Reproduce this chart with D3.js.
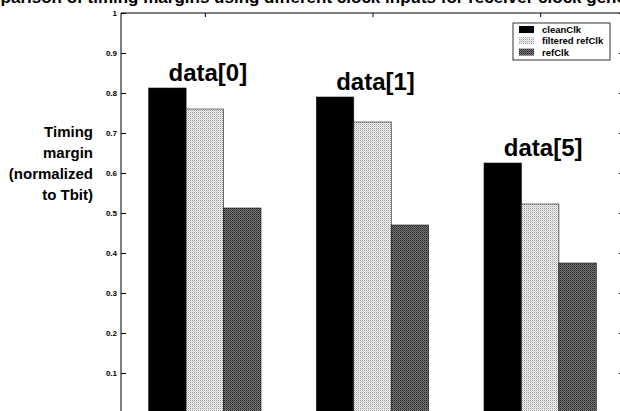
<!DOCTYPE html>
<html lang="en">
<head>
    <meta charset="UTF-8">
    <title>Timing margin bar chart</title>
    <script src="https://d3js.org/d3.v7.min.js"></script>
    <style>
        body { margin: 0; background: #fff; }
        text { font-family: "Liberation Sans", Arial, sans-serif; font-weight: bold; fill: #000; }
        .tick text { font-size: 8px; }
        .tick line, .domain { stroke: #000; }
    </style>
</head>
<body>
    <script>
        // data
        const groups = ["data[0]", "data[1]", "data[5]"];
        const series = ["cleanClk", "filtered refClk", "refClk"];
        const cleanClk = [0.8125, 0.79, 0.625];
        const filteredRefClk = [0.76, 0.7275, 0.5225];
        const refClk = [0.5125, 0.47, 0.375];
        const yTicks = [0, 0.1, 0.2, 0.3, 0.4, 0.5, 0.6, 0.7, 0.8, 0.9, 1];

        const width = 620, height = 411;
        const plotL = 121, plotR = 624, plotT = 13, plotB = 413;

        const svg = d3.select("body").append("svg")
            .attr("width", width)
            .attr("height", height);

        const defs = svg.append("defs");
        // light stipple
        const pLight = defs.append("pattern").attr("id", "light")
            .attr("width", 2).attr("height", 2).attr("patternUnits", "userSpaceOnUse");
        pLight.append("rect").attr("width", 2).attr("height", 2).attr("fill", "#f4f4f4");
        pLight.append("rect").attr("width", 1).attr("height", 1).attr("fill", "#9a9a9a");
        pLight.append("rect").attr("x", 1).attr("y", 1).attr("width", 1).attr("height", 1).attr("fill", "#d0d0d0");
        // dark stipple
        const pDark = defs.append("pattern").attr("id", "dark")
            .attr("width", 2).attr("height", 2).attr("patternUnits", "userSpaceOnUse");
        pDark.append("rect").attr("width", 2).attr("height", 2).attr("fill", "#7a7a7a");
        pDark.append("rect").attr("width", 1).attr("height", 1).attr("fill", "#222");
        pDark.append("rect").attr("x", 1).attr("y", 1).attr("width", 1).attr("height", 1).attr("fill", "#444");

        const fills = ["#000", "url(#light)", "url(#dark)"];
        const values = [cleanClk, filteredRefClk, refClk];

        const x = d3.scaleLinear().domain([0.5, groups.length + 0.5]).range([plotL, plotR]);
        const y = d3.scaleLinear().domain([0, 1]).range([plotB, plotT]);
        const groupW = 0.67;
        const xs = d3.scaleBand().domain(series).range([0, x(1 + groupW) - x(1)]);

        // title (cut off at the top edge, as in the source)
        svg.append("text")
            .attr("x", 318).attr("y", 3)
            .attr("text-anchor", "middle")
            .style("font-size", "17px")
            .text("Comparison of timing margins using different clock inputs for receiver clock generation");

        // bars
        groups.forEach((g, i) => {
            const x0 = x(i + 1) - (x(1 + groupW) - x(1)) / 2;
            series.forEach((s, j) => {
                svg.append("rect")
                    .attr("x", x0 + xs(s))
                    .attr("y", y(values[j][i]))
                    .attr("width", xs.bandwidth())
                    .attr("height", y(0) - y(values[j][i]))
                    .attr("fill", fills[j])
                    .attr("stroke", "#111")
                    .attr("stroke-width", 0.6);
            });
            svg.append("text")
                .attr("x", x(i + 1) + 3)
                .attr("y", y(cleanClk[i]) - 7)
                .attr("text-anchor", "middle")
                .style("font-size", "24px")
                .text(g);
        });

        // axes
        svg.append("g")
            .attr("transform", `translate(${plotL},0)`)
            .call(d3.axisRight(y).tickValues(yTicks).tickSize(5).tickFormat(d3.format("")))
            .call(g => g.selectAll(".tick text").attr("x", -4).attr("text-anchor", "end"))
            .call(g => g.select(".domain").attr("d", `M0,${plotB}V${plotT}`));
        svg.append("g")
            .attr("transform", `translate(${plotR},0)`)
            .call(d3.axisLeft(y).tickValues(yTicks).tickSize(5).tickFormat(""))
            .call(g => g.select(".domain").attr("d", `M0,${plotB}V${plotT}`));
        svg.append("g")
            .attr("transform", `translate(0,${plotT})`)
            .call(d3.axisBottom(x).tickValues(d3.range(1, groups.length + 1)).tickSize(4).tickFormat(""))
            .call(g => g.select(".domain").attr("d", `M${plotL},0H${plotR}`));

        // y label
        const ylab = svg.append("text")
            .attr("text-anchor", "end")
            .style("font-size", "15px");
        ["Timing", "margin", "(normalized", "to Tbit)"].forEach((t, i) => {
            ylab.append("tspan").attr("x", 93).attr("y", 137 + i * 21).text(t);
        });

        // legend
        const lg = svg.append("g").attr("transform", "translate(513,23)");
        lg.append("rect").attr("width", 97).attr("height", 37)
            .attr("fill", "#fff").attr("stroke", "#000").attr("stroke-width", 0.8);
        series.forEach((s, j) => {
            lg.append("rect")
                .attr("x", 6).attr("y", 3 + j * 11.3)
                .attr("width", 15).attr("height", 7)
                .attr("fill", fills[j]);
            lg.append("text")
                .attr("x", 29).attr("y", 10 + j * 11.3)
                .style("font-size", "9.5px")
                .text(s);
        });
    </script>
</body>
</html>
